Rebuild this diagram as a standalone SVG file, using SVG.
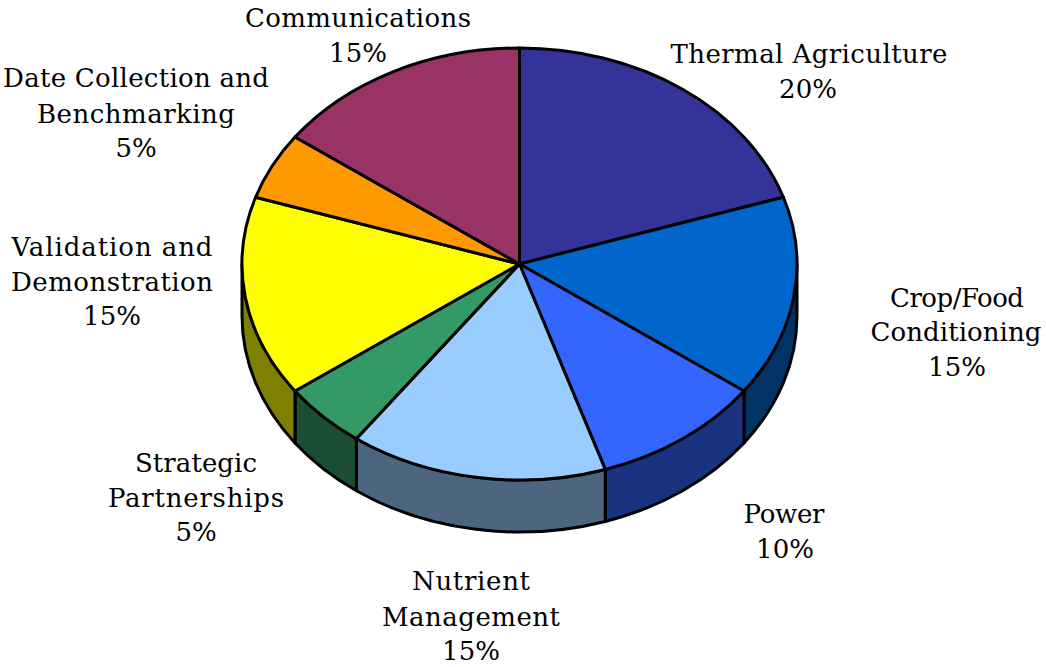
<svg xmlns="http://www.w3.org/2000/svg" width="1046" height="667" viewBox="0 0 1046 667">
<style>
.s{stroke:#000;stroke-width:3;stroke-linejoin:round}
.t{font-family:"DejaVu Serif","Liberation Serif",serif;font-size:26px;fill:#000;text-anchor:middle}
</style>
<rect width="1046" height="667" fill="#fff"/>
<g id="pie-sides">
<path class="s" fill="#003366" d="M797,264 A277.5,216 0 0 1 744,390.96 L744,442.96 A277.5,216 0 0 0 797,316 Z"/>
<path class="s" fill="#1A3380" d="M744,390.96 A277.5,216 0 0 1 605.25,469.43 L605.25,521.43 A277.5,216 0 0 0 744,442.96 Z"/>
<path class="s" fill="#4D6680" d="M605.25,469.43 A277.5,216 0 0 1 356.39,438.75 L356.39,490.75 A277.5,216 0 0 0 605.25,521.43 Z"/>
<path class="s" fill="#1A4D33" d="M356.39,438.75 A277.5,216 0 0 1 295,390.96 L295,442.96 A277.5,216 0 0 0 356.39,490.75 Z"/>
<path class="s" fill="#808000" d="M295,390.96 A277.5,216 0 0 1 242,264 L242,316 A277.5,216 0 0 0 295,442.96 Z"/>
</g>
<g id="slice-thermal"><path class="s" fill="#333399" d="M519.5,264 L519.5,48 A277.5,216 0 0 1 783.42,197.25 Z"/></g>
<g id="slice-crop"><path class="s" fill="#0066CC" d="M519.5,264 L783.42,197.25 A277.5,216 0 0 1 744,390.96 Z"/></g>
<g id="slice-power"><path class="s" fill="#3366FF" d="M519.5,264 L744,390.96 A277.5,216 0 0 1 605.25,469.43 Z"/></g>
<g id="slice-nutrient"><path class="s" fill="#99CCFF" d="M519.5,264 L605.25,469.43 A277.5,216 0 0 1 356.39,438.75 Z"/></g>
<g id="slice-strategic"><path class="s" fill="#339966" d="M519.5,264 L356.39,438.75 A277.5,216 0 0 1 295,390.96 Z"/></g>
<g id="slice-validation"><path class="s" fill="#FFFF00" d="M519.5,264 L295,390.96 A277.5,216 0 0 1 255.58,197.25 Z"/></g>
<g id="slice-datacollection"><path class="s" fill="#FF9900" d="M519.5,264 L255.58,197.25 A277.5,216 0 0 1 295,137.04 Z"/></g>
<g id="slice-communications"><path class="s" fill="#993366" d="M519.5,264 L295,137.04 A277.5,216 0 0 1 519.5,48 Z"/></g>
<g id="labels">
<text class="t" x="358" y="27" textLength="226" lengthAdjust="spacing">Communications</text>
<text class="t" x="358" y="62">15%</text>
<text class="t" x="136" y="87" textLength="266" lengthAdjust="spacing">Date Collection and</text>
<text class="t" x="136" y="123" textLength="198" lengthAdjust="spacing">Benchmarking</text>
<text class="t" x="136" y="157">5%</text>
<text class="t" x="809" y="63" textLength="277" lengthAdjust="spacing">Thermal Agriculture</text>
<text class="t" x="808" y="98">20%</text>
<text class="t" x="957" y="307" textLength="134" lengthAdjust="spacing">Crop/Food</text>
<text class="t" x="956" y="341" textLength="171" lengthAdjust="spacing">Conditioning</text>
<text class="t" x="957" y="376">15%</text>
<text class="t" x="784" y="523" textLength="81" lengthAdjust="spacing">Power</text>
<text class="t" x="785" y="558">10%</text>
<text class="t" x="471" y="590" textLength="118" lengthAdjust="spacing">Nutrient</text>
<text class="t" x="471" y="626" textLength="178" lengthAdjust="spacing">Management</text>
<text class="t" x="471" y="660">15%</text>
<text class="t" x="196" y="472" textLength="122" lengthAdjust="spacing">Strategic</text>
<text class="t" x="196" y="507" textLength="176" lengthAdjust="spacing">Partnerships</text>
<text class="t" x="196" y="541">5%</text>
<text class="t" x="112" y="256" textLength="201" lengthAdjust="spacing">Validation and</text>
<text class="t" x="112" y="291" textLength="202" lengthAdjust="spacing">Demonstration</text>
<text class="t" x="112" y="325">15%</text>
</g>
</svg>
